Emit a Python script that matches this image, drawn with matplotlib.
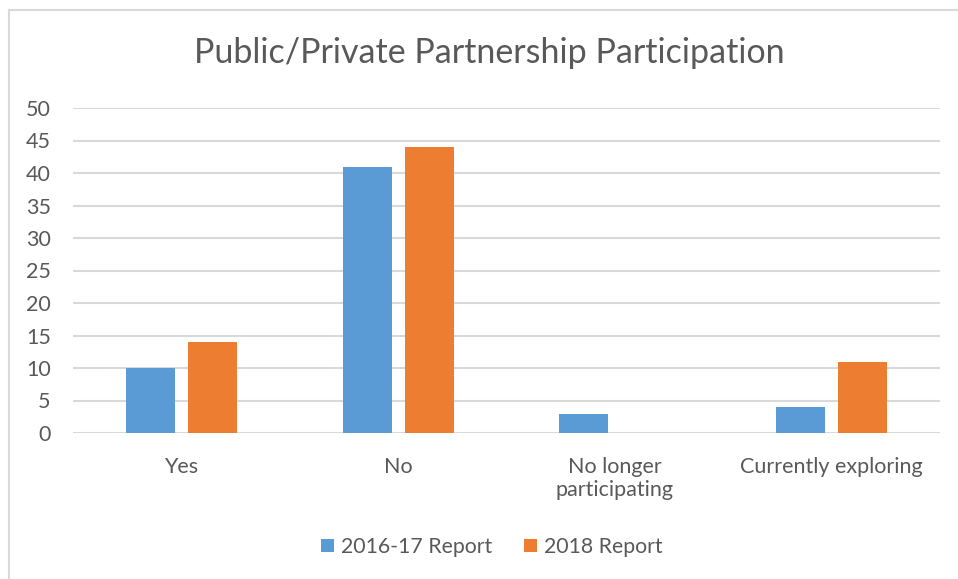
import matplotlib.pyplot as plt
import numpy as np

categories = ["Yes", "No", "No longer\nparticipating", "Currently exploring"]
report_2016 = [10, 41, 3, 4]
report_2018 = [14, 44, 0, 11]
series_names = ["2016-17 Report", "2018 Report"]

blue = "#5b9bd5"
orange = "#ed7d31"
text_col = "#595959"
grid_col = "#d9d9d9"

plt.rcParams['font.family'] = ['Lato', 'DejaVu Sans']

fig = plt.figure(figsize=(9.58, 5.79), dpi=100)
ax = fig.add_axes([73/958, 1 - 433/579, (940 - 73)/958, (433 - 108)/579])

x = np.arange(len(categories))
w = 0.226
off = 0.143
ax.bar(x - off, report_2016, w, color=blue, label=series_names[0], zorder=3)
ax.bar(x + off, report_2018, w, color=orange, label=series_names[1], zorder=3)

ax.set_xlim(-0.5, len(categories) - 0.5)
ax.set_ylim(0, 50)
ax.set_yticks(range(0, 51, 5))
ax.yaxis.grid(True, color=grid_col, linewidth=1.5, zorder=0)
ax.set_axisbelow(True)
for s in ax.spines.values():
    s.set_visible(False)
ax.tick_params(axis='both', length=0, labelsize=15.5, colors=text_col)
ax.tick_params(axis='y', pad=16)
ax.tick_params(axis='x', pad=17)
ax.set_xticks(x)
ax.set_xticklabels(categories, linespacing=1.2)

fig.text(489/958, 1 - 53/579, "Public/Private Partnership Participation",
         ha='center', va='center', fontsize=24.5, color=text_col)

leg = fig.legend(loc='center', bbox_to_anchor=(492/958, 1 - 547/579), ncol=2,
                 frameon=False, fontsize=15.3, handlelength=0.6, handleheight=0.6,
                 columnspacing=1.5, handletextpad=0.35)
for t in leg.get_texts():
    t.set_color(text_col)

# chart border (only top and left visible in the crop)
fig.add_artist(plt.Line2D([9/958, 9/958], [0, 1 - 10/579], color=grid_col, lw=1.5))
fig.add_artist(plt.Line2D([9/958, 1], [1 - 10/579, 1 - 10/579], color=grid_col, lw=1.5))

fig.savefig("out.png", dpi=100)
